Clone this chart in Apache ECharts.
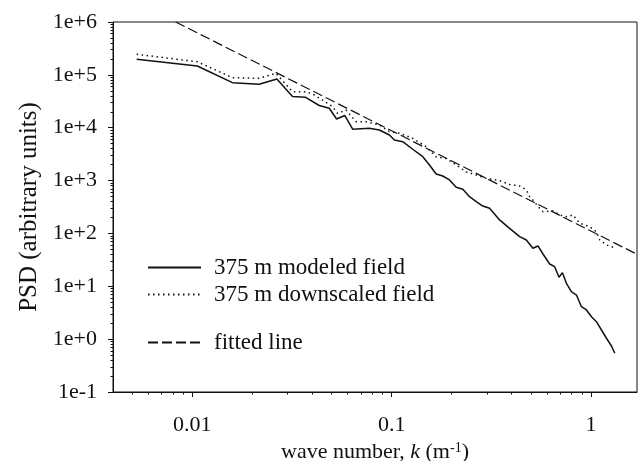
<!DOCTYPE html>
<html>
<head>
<meta charset="utf-8">
<script src="https://cdn.jsdelivr.net/npm/echarts@6/dist/echarts.min.js"></script>
<style>html,body{margin:0;padding:0;background:#fff}#c{width:639px;height:461px}</style>
</head>
<body>
<div id="c"></div>
<script>
// ---- data ----
var modeledK = [0.005256,0.01059,0.01589,0.02164,0.02655,0.03181,0.03683,0.04332,0.04862,0.05292,0.05818,0.06383,0.07724,0.08675,0.09736,0.1032,0.1136,0.1275,0.1432,0.1547,0.1671,0.1804,0.1949,0.2107,0.2274,0.2457,0.2655,0.2866,0.3097,0.3477,0.3904,0.4383,0.4735,0.5110,0.5417,0.5739,0.6201,0.6570,0.6906,0.7183,0.7523,0.7970,0.8446,0.8951,0.9482,1.005,1.064,1.128,1.195,1.266,1.315];
var modeledPSD = [1.97e5,1.471e5,7.11e4,6.63e4,8.35e4,3.90e4,3.78e4,2.63e4,2.33e4,1.46e4,1.70e4,9.33e3,9.75e3,9.06e3,7.28e3,5.86e3,5.44e3,3.91e3,2.83e3,1.97e3,1.33e3,1.22e3,1.03e3,746,684,495,398,330,299,180,125,86.8,75.1,52.4,57.9,40.8,26.4,23.5,14.8,18.1,11.4,7.90,6.84,4.11,3.56,2.66,2.14,1.49,1.04,0.742,0.540];
var downK = [0.005256,0.01059,0.01589,0.02164,0.02624,0.03181,0.03713,0.04009,0.04499,0.05051,0.05353,0.05900,0.06625,0.07436,0.08675,0.09736,0.1093,0.1275,0.1489,0.1671,0.1876,0.2107,0.2365,0.2655,0.2981,0.3477,0.3904,0.4383,0.4735,0.4920,0.5110,0.5524,0.5739,0.6442,0.6962,0.7523,0.8118,0.8774,0.9851,1.064,1.106,1.195,1.300];
var downPSD = [2.45e5,1.77e5,8.84e4,8.61e4,1.07e5,4.80e4,4.80e4,4.34e4,3.34e4,2.50e4,1.87e4,2.16e4,1.30e4,1.30e4,1.13e4,8.41e3,7.84e3,6.31e3,4.37e3,2.79e3,2.62e3,1.97e3,1.45e3,1.28e3,1.10e3,1.00e3,843,790,663,495,429,299,258,266,223,207,223,156,134,107,75.1,60.4,54.2];
var fitK = [0.00825, 1.69];
var fitPSD = [1e6, 40.8];
var xTickLabels = [0.01, 0.1, 1];
var yTickLabels = [0.1, 1, 10, 100, 1000, 10000, 100000, 1000000];
var seriesNames = ['375 m modeled field', '375 m downscaled field', 'fitted line'];

function zip(a, b) { return a.map(function (v, i) { return [v, b[i]]; }); }
function minorTicks(lo, hi) {
  var out = [];
  for (var d = 1e-4; d < 1e7; d *= 10) {
    for (var m = 2; m <= 9; m++) { var v = +(m * d).toPrecision(3); if (v > lo && v < hi) out.push(v); }
  }
  return out;
}
var FONT = 'Liberation Serif';
var INK = '#111';
var xMin = 0.004, xMax = 1.7, yMin = 0.1, yMax = 1e6;

function yFmt(v) {
  var e = Math.round(Math.log10(v));
  return '1e' + (e < 0 ? '-' : '+') + Math.abs(e);
}
function legendCfg(name, top) {
  return { data: [name], left: 147, top: top, padding: 0, itemWidth: 53, itemHeight: 14,
    itemStyle: { opacity: 0 },
    textStyle: { fontFamily: FONT, fontSize: 23, color: INK, padding: [0, 0, 0, 8] } };
}

var chart = echarts.init(document.getElementById('c'), null, { renderer: 'canvas' });
chart.setOption({
  animation: false,
  backgroundColor: '#fff',
  grid: { left: 113, right: 2, top: 22, bottom: 69, show: true, borderColor: INK, borderWidth: 1,
          containLabel: false, outerBoundsMode: 'none' },
  xAxis: [{
    type: 'log', min: xMin, max: xMax, position: 'bottom',
    name: 'wave number, {i|k} (m{sup|-1})',
    nameLocation: 'middle', nameGap: 48,
    nameTextStyle: { fontFamily: FONT, fontSize: 22, color: INK,
      rich: { i: { fontFamily: FONT, fontSize: 22, fontStyle: 'italic', color: INK },
              sup: { fontFamily: FONT, fontSize: 14, color: INK, verticalAlign: 'top', padding: [0, 0, 8, 0] } } },
    axisLine: { show: true, lineStyle: { color: INK, width: 1 } },
    axisTick: { show: true, length: 5, customValues: xTickLabels, lineStyle: { color: INK } },
    axisLabel: { customValues: xTickLabels, fontFamily: FONT, fontSize: 22, color: INK, margin: 22,
      formatter: function (v) { return String(+v.toPrecision(3)); } },
    splitLine: { show: false }
  }, {
    type: 'log', min: xMin, max: xMax, position: 'bottom', gridIndex: 0,
    axisLine: { show: false },
    axisTick: { show: true, length: 2.5, customValues: minorTicks(xMin, xMax), lineStyle: { color: INK } },
    axisLabel: { show: false }, splitLine: { show: false }
  }],
  yAxis: [{
    type: 'log', min: yMin, max: yMax, position: 'left',
    name: 'PSD (arbitrary units)', nameLocation: 'middle', nameGap: 71, nameRotate: 90,
    nameTextStyle: { fontFamily: FONT, fontSize: 25, color: INK },
    axisLine: { show: true, lineStyle: { color: INK, width: 1 } },
    axisTick: { show: true, length: 5, customValues: yTickLabels, lineStyle: { color: INK } },
    axisLabel: { customValues: yTickLabels, fontFamily: FONT, fontSize: 22, color: INK, margin: 16, formatter: yFmt },
    splitLine: { show: false }
  }, {
    type: 'log', min: yMin, max: yMax, position: 'left', gridIndex: 0,
    axisLine: { show: false },
    axisTick: { show: true, length: 2.5, customValues: minorTicks(yMin, yMax), lineStyle: { color: INK } },
    axisLabel: { show: false }, splitLine: { show: false }
  }],
  legend: [
    legendCfg(seriesNames[0], 256),
    legendCfg(seriesNames[1], 283),
    legendCfg(seriesNames[2], 331)
  ],
  series: [
    { name: seriesNames[0], type: 'line', xAxisIndex: 0, yAxisIndex: 0, data: zip(modeledK, modeledPSD),
      showSymbol: false, symbol: 'none', lineStyle: { color: INK, width: 1.5, type: 'solid' }, itemStyle: { color: INK } },
    { name: seriesNames[1], type: 'line', xAxisIndex: 0, yAxisIndex: 0, data: zip(downK, downPSD),
      showSymbol: false, symbol: 'none', lineStyle: { color: INK, width: 1.5, type: [1.5, 3.5] }, itemStyle: { color: INK } },
    { name: seriesNames[2], type: 'line', xAxisIndex: 0, yAxisIndex: 0, data: zip(fitK, fitPSD),
      showSymbol: false, symbol: 'none', lineStyle: { color: INK, width: 1.2, type: [10, 4] }, itemStyle: { color: INK } }
  ]
});
</script>
</body>
</html>
